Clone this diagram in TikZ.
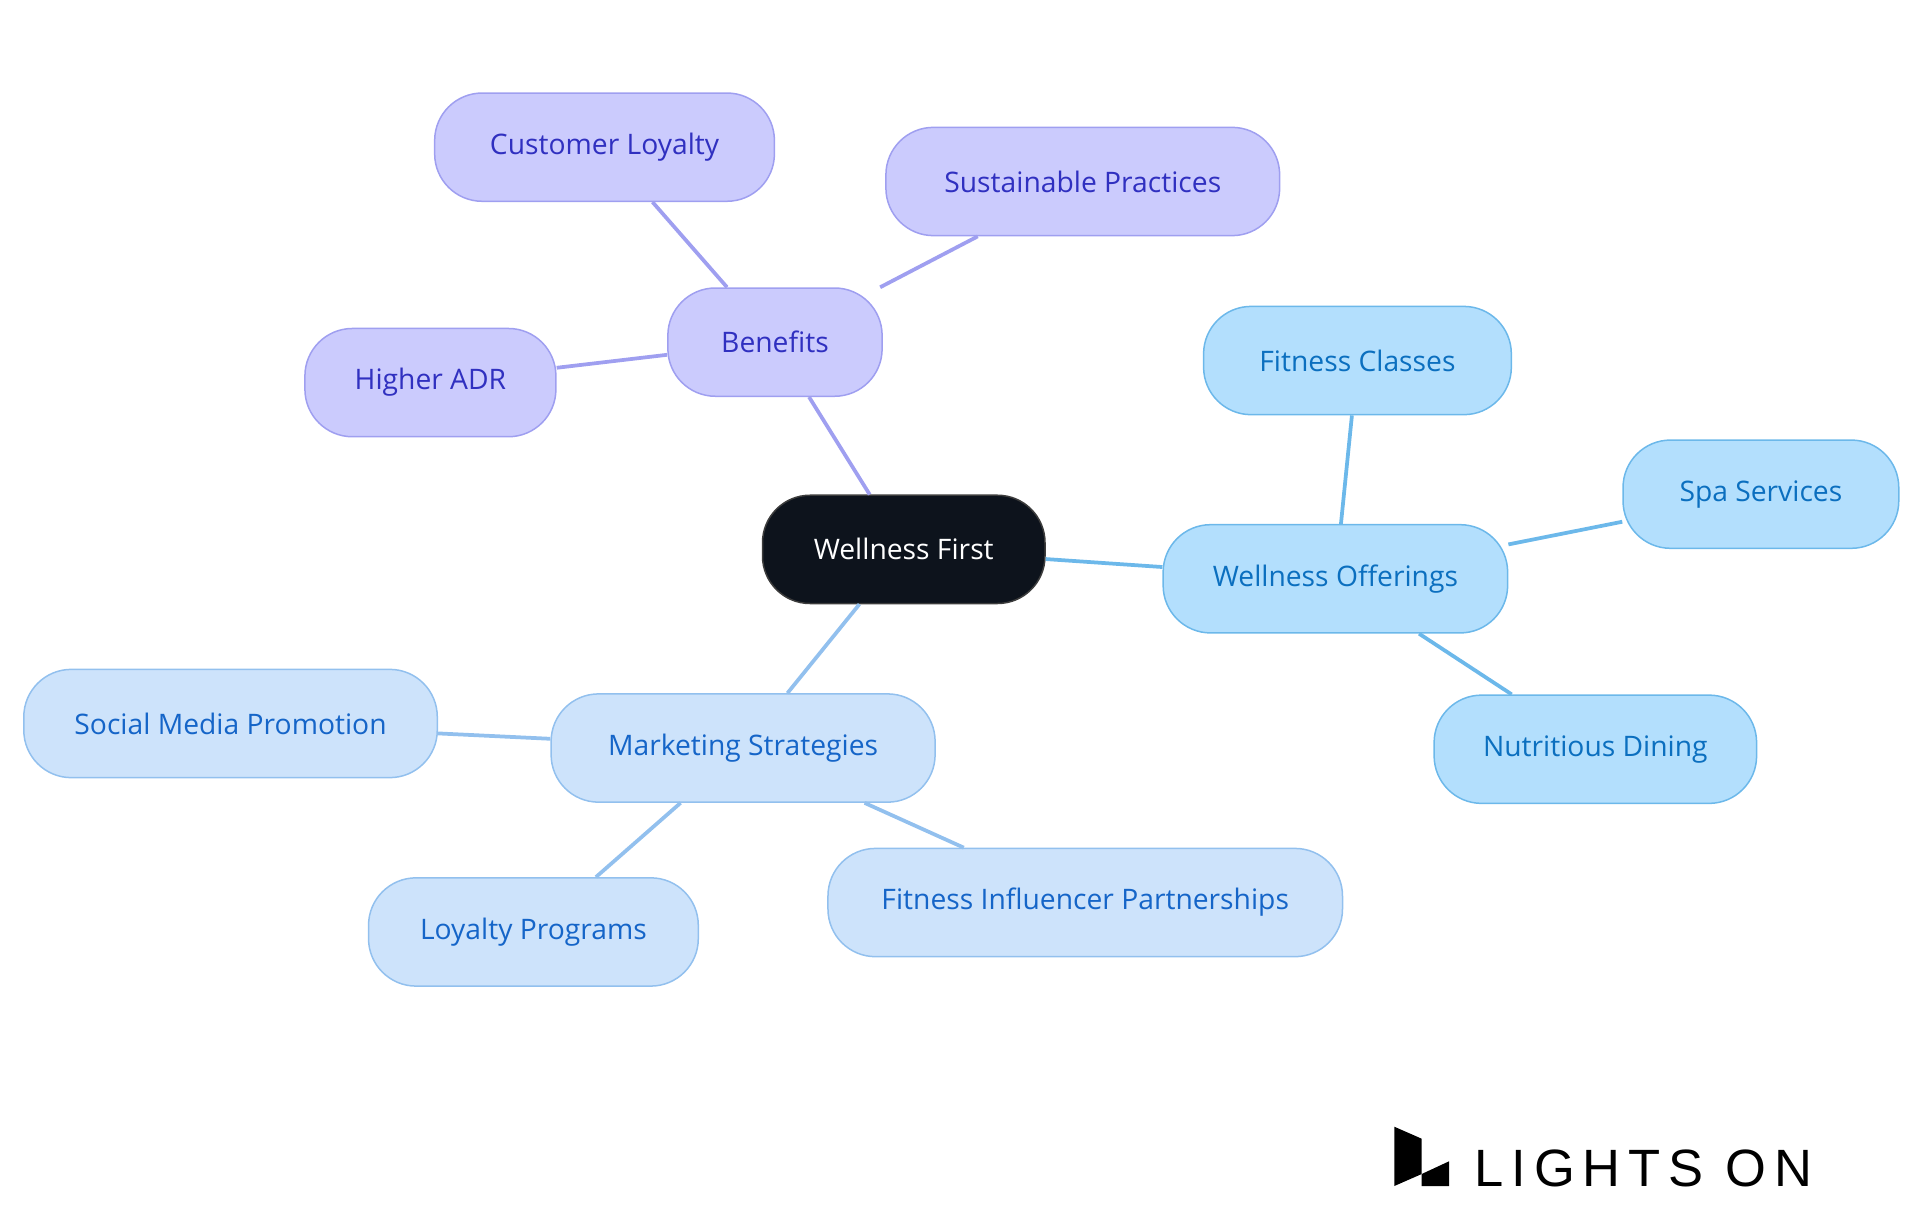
\documentclass[tikz,border=0pt]{standalone}
\usepackage{fontspec}
\setmainfont{Open Sans}
\newfontfamily\logofont[LetterSpace=15]{Liberation Sans}
\begin{document}
\begin{tikzpicture}[x=0.4pt,y=-0.4pt,
  base/.style={rounded corners=19pt,draw,line width=0.6pt,minimum height=43.3pt,font=\fontsize{11.3}{13}\selectfont,inner sep=0pt},
  root/.style={base,fill={rgb,255:red,13;green,19;blue,28},draw={rgb,255:red,60;green,60;blue,60},text=white},
  ben/.style={base,fill={rgb,255:red,203;green,203;blue,253},draw={rgb,255:red,159;green,159;blue,240},text={rgb,255:red,48;green,48;blue,192}},
  wel/.style={base,fill={rgb,255:red,179;green,223;blue,253},draw={rgb,255:red,108;green,184;blue,234},text={rgb,255:red,11;green,111;blue,191}},
  mar/.style={base,fill={rgb,255:red,205;green,227;blue,251},draw={rgb,255:red,146;green,192;blue,238},text={rgb,255:red,21;green,101;blue,200}},
  eb/.style={line width=1.5pt,draw={rgb,255:red,159;green,159;blue,240}},
  ew/.style={line width=1.5pt,draw={rgb,255:red,108;green,184;blue,234}},
  em/.style={line width=1.5pt,draw={rgb,255:red,146;green,192;blue,238}}]
\useasboundingbox (0,0) rectangle (1920,1215);
\begin{scope}[x=0.4905pt,y=-0.4905pt]
\node[root,minimum width=113pt] (r) at (737,448) {Wellness First};
\node[ben,minimum width=85.7pt] (b) at (632,279) {Benefits};
\node[ben,minimum width=135.9pt] (b1) at (493,120) {Customer Loyalty};
\node[ben,minimum width=157.5pt] (b2) at (883,148) {Sustainable Practices};
\node[ben,minimum width=100.4pt] (b3) at (351,312) {Higher ADR};
\node[wel,minimum width=137.8pt] (w) at (1089,472) {Wellness Offerings};
\node[wel,minimum width=123.1pt] (w1) at (1107,294) {Fitness Classes};
\node[wel,minimum width=110.3pt] (w2) at (1436,403) {Spa Services};
\node[wel,minimum width=129pt] (w3) at (1301,611) {Nutritious Dining};
\node[mar,minimum width=153.6pt] (m) at (606,610) {Marketing Strategies};
\node[mar,minimum width=165.4pt] (m1) at (188,590) {Social Media Promotion};
\node[mar,minimum width=131.9pt] (m2) at (435,760) {Loyalty Programs};
\node[mar,minimum width=205.8pt] (m3) at (885,736) {Fitness Influencer Partnerships};
\end{scope}
\draw[eb] (r) -- (b); \draw[eb] (b) -- (b1); \draw[eb] (b) -- (b2); \draw[eb] (b) -- (b3);
\draw[ew] (r) -- (w); \draw[ew] (w) -- (w1); \draw[ew] (w) -- (w2); \draw[ew] (w) -- (w3);
\draw[em] (r) -- (m); \draw[em] (m) -- (m1); \draw[em] (m) -- (m2); \draw[em] (m) -- (m3);
\fill (1394.3,1126.7) -- (1421.7,1138.7) -- (1421.7,1174) -- (1394.3,1186) -- cycle;
\fill (1421.7,1174) -- (1449,1161.3) -- (1449,1186) -- (1421.7,1186) -- cycle;
\node[anchor=base west,inner sep=0pt,font=\logofont\fontsize{21}{21}\selectfont] (logo) at (1474,1186) {LIGHTS ON};
\end{tikzpicture}
\end{document}
